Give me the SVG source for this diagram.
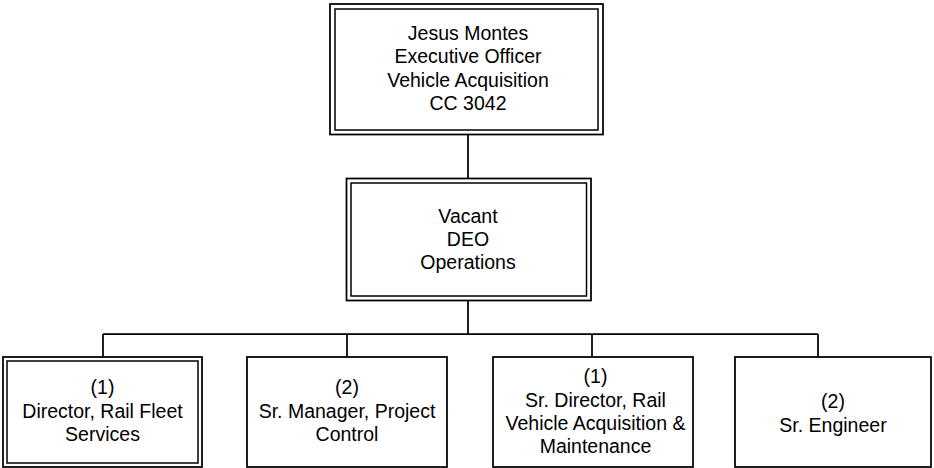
<svg xmlns="http://www.w3.org/2000/svg" width="934" height="468" viewBox="0 0 934 468">
<style>
  .box { fill: #ffffff; stroke: #000000; stroke-width: 1.75; }
  .inner { fill: none; stroke: #000000; stroke-width: 1.5; }
  .conn { fill: none; stroke: #000000; stroke-width: 1.75; }
  text { font-family: "Liberation Sans", Arial, sans-serif; font-size: 19.5px; fill: #000000; text-anchor: middle; }
</style>
<rect width="934" height="468" fill="#ffffff"/>
<g id="connectors">
  <line class="conn" x1="468" y1="134.5" x2="468" y2="178.5"/>
  <line class="conn" x1="468" y1="300.5" x2="468" y2="334"/>
  <line class="conn" x1="103" y1="334" x2="818" y2="334"/>
  <line class="conn" x1="103" y1="334" x2="103" y2="357"/>
  <line class="conn" x1="347" y1="334" x2="347" y2="357"/>
  <line class="conn" x1="592" y1="334" x2="592" y2="357"/>
  <line class="conn" x1="818" y1="334" x2="818" y2="357"/>
</g>
<g id="node-executive">
  <rect class="box" x="330" y="4" width="273" height="130.5"/>
  <rect class="inner" x="335" y="9" width="263" height="121"/>
  <text x="468" y="39.5">Jesus Montes</text>
  <text x="468" y="63">Executive Officer</text>
  <text x="468" y="86.5">Vehicle Acquisition</text>
  <text x="468" y="110">CC 3042</text>
</g>
<g id="node-deo">
  <rect class="box" x="346.5" y="178.5" width="244.5" height="122"/>
  <rect class="inner" x="351" y="183" width="235.5" height="113"/>
  <text x="468" y="222.7">Vacant</text>
  <text x="468" y="246">DEO</text>
  <text x="468" y="269.3">Operations</text>
</g>
<g id="node-director-fleet">
  <rect class="box" x="3" y="357" width="199" height="110"/>
  <rect class="inner" x="7" y="361" width="191" height="102"/>
  <text x="102.5" y="394.3">(1)</text>
  <text x="102.5" y="417.7">Director, Rail Fleet</text>
  <text x="102.5" y="441">Services</text>
</g>
<g id="node-project-control">
  <rect class="box" x="247" y="357" width="200" height="110"/>
  <text x="347" y="394.3">(2)</text>
  <text x="347" y="417.7">Sr. Manager, Project</text>
  <text x="347" y="441">Control</text>
</g>
<g id="node-sr-director">
  <rect class="box" x="493" y="357" width="200" height="110"/>
  <text x="595.5" y="383.3">(1)</text>
  <text x="595.5" y="406.7">Sr. Director, Rail</text>
  <text x="595.5" y="430">Vehicle Acquisition &amp;</text>
  <text x="595.5" y="453.3">Maintenance</text>
</g>
<g id="node-engineer">
  <rect class="box" x="735" y="357" width="196" height="110"/>
  <text x="833" y="408">(2)</text>
  <text x="833" y="431.5">Sr. Engineer</text>
</g>
</svg>
